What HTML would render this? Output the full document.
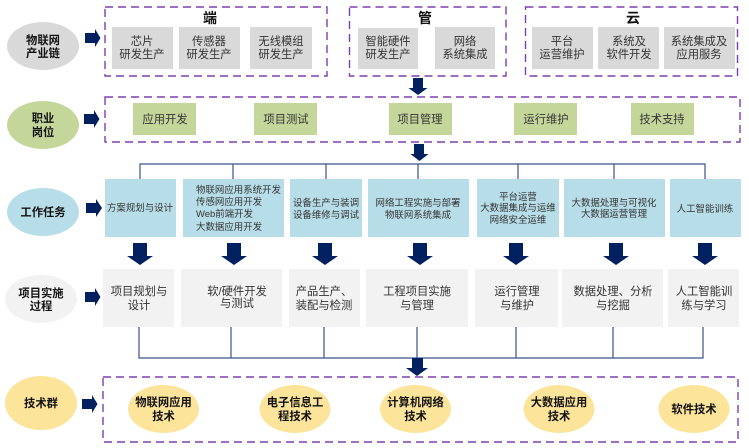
<!DOCTYPE html>
<html lang="zh"><head><meta charset="utf-8">
<style>
html,body{margin:0;padding:0;background:#fff;width:749px;height:448px;overflow:hidden}
svg{display:block}
text{font-family:"Liberation Sans","Noto Sans CJK SC",sans-serif;text-anchor:middle;fill:#333}
.g{font-size:11.3px}
.b{font-size:9.45px}
.h{font-size:11.3px;font-weight:700;fill:#111}
.t{font-size:14px;font-weight:700;fill:#111}
.d{fill:none;stroke:#7e3fae;stroke-width:1.4;stroke-dasharray:8 5}
.l{fill:none;stroke:#3b5488;stroke-width:1.2}
</style></head><body>
<svg width="749" height="448" viewBox="0 0 749 448" xmlns="http://www.w3.org/2000/svg">
<rect width="749" height="448" fill="#fff"/>

<!-- connectors -->
<path class="l" d="M140 179V164H705V179M233 164V179M326 164V179M418 164V179M518 164V179M614 164V179"/>
<path class="l" d="M139 327V358H703V327M231 327V358M324 327V358M417 327V358M516 327V358M613 327V358"/>

<!-- dashed containers -->
<rect class="d" x="105" y="7" width="222" height="69"/>
<rect class="d" x="349.500" y="7" width="156.500" height="69"/>
<rect class="d" x="525.500" y="7" width="212" height="69"/>
<rect class="d" x="105" y="97" width="635" height="45"/>
<rect class="d" x="103" y="377" width="635" height="65"/>

<!-- left ellipses -->
<ellipse cx="43" cy="46" rx="36" ry="24" fill="#d9d9d9"/>
<ellipse cx="43" cy="125" rx="36" ry="24" fill="#c5d69b"/>
<ellipse cx="43" cy="212" rx="36" ry="24" fill="#b7dde8"/>
<ellipse cx="41" cy="299" rx="36" ry="24" fill="#f2f2f2"/>
<ellipse cx="41" cy="403" rx="36" ry="27" fill="#fde49b"/>
<text class="h" x="43" y="44">物联网</text><text class="h" x="43" y="57">产业链</text>
<text class="h" x="43" y="122">职业</text><text class="h" x="43" y="136">岗位</text>
<text class="h" x="43" y="216">工作任务</text>
<text class="h" x="41" y="297">项目实施</text><text class="h" x="41" y="310">过程</text>
<text class="h" x="41" y="407">技术群</text>

<!-- right arrows -->
<g fill="#002060">
<path d="M85 33H95V29L100.500 38L95 47V43H85Z"/>
<path d="M84 114H94V110L99.500 119L94 128V124H84Z"/>
<path d="M86 203H96V199L102 208L96 217V213H86Z"/>
<path d="M85 292H95V288L100.500 297L95 306V302H85Z"/>
<path d="M82 399H92V395L97.500 404L92 413V409H82Z"/>
<!-- small down arrows -->
<path d="M413 78H423V88H427.500L418 95L408.500 88H413Z"/>
<path d="M414 144H424V154H428.500L419.500 161L410.500 154H414Z"/>
<path d="M412 358H423V368H428L417 376L406 368H412Z"/>
<!-- row arrows -->
<path d="M133 243H147V256H153L140 265L127 256H133Z"/>
<path d="M227 243H241V256H247L234 265L221 256H227Z"/>
<path d="M318 243H332V256H338L325 265L312 256H318Z"/>
<path d="M413 243H427V256H433L420 265L407 256H413Z"/>
<path d="M509 243H523V256H529L516 265L503 256H509Z"/>
<path d="M609 243H623V256H629L616 265L603 256H609Z"/>
<path d="M698 243H712V256H718L705 265L692 256H698Z"/>
</g>

<!-- group titles -->
<text class="t" x="210" y="23">端</text>
<text class="t" x="425" y="23">管</text>
<text class="t" x="633" y="23">云</text>

<!-- gray cards -->
<g fill="#d9d9d9">
<rect x="112" y="27" width="61" height="42"/><rect x="179" y="27" width="61" height="42"/><rect x="250" y="27" width="62" height="42"/>
<rect x="358" y="28" width="60" height="41"/><rect x="435" y="27" width="60" height="42"/>
<rect x="532" y="27" width="61" height="42"/><rect x="598" y="27" width="61" height="42"/><rect x="664" y="27" width="71" height="42"/>
</g>
<text class="g" x="142" y="45">芯片</text><text class="g" x="142" y="58">研发生产</text>
<text class="g" x="209" y="45">传感器</text><text class="g" x="209" y="58">研发生产</text>
<text class="g" x="281" y="45">无线模组</text><text class="g" x="281" y="58">研发生产</text>
<text class="g" x="388" y="45">智能硬件</text><text class="g" x="388" y="58">研发生产</text>
<text class="g" x="465" y="45">网络</text><text class="g" x="465" y="58">系统集成</text>
<text class="g" x="562" y="45">平台</text><text class="g" x="562" y="58">运营维护</text>
<text class="g" x="629" y="45">系统及</text><text class="g" x="629" y="58">软件开发</text>
<text class="g" x="699" y="45">系统集成及</text><text class="g" x="699" y="58">应用服务</text>

<!-- green cards -->
<g fill="#c5d69b">
<rect x="133" y="103" width="63" height="32"/><rect x="254" y="103" width="63" height="32"/><rect x="389" y="103" width="63" height="32"/><rect x="514" y="103" width="63" height="32"/><rect x="631" y="103" width="63" height="32"/>
</g>
<text class="g" x="165" y="123">应用开发</text>
<text class="g" x="286" y="123">项目测试</text>
<text class="g" x="420" y="123">项目管理</text>
<text class="g" x="546" y="123">运行维护</text>
<text class="g" x="662" y="123">技术支持</text>

<!-- blue cards -->
<g fill="#b7dde8">
<rect x="105" y="179" width="71" height="58"/><rect x="183" y="179" width="101" height="58"/><rect x="290" y="179" width="72" height="58"/><rect x="368" y="179" width="101" height="58"/><rect x="477" y="179" width="82" height="58"/><rect x="564" y="179" width="101" height="58"/><rect x="670" y="179" width="71" height="58"/>
</g>
<text class="b" x="140" y="211">方案规划与设计</text>
<g style="text-anchor:start">
<text class="b" x="196" y="193" style="text-anchor:start">物联网应用系统开发</text>
<text class="b" x="196" y="205" style="text-anchor:start">传感网应用开发</text>
<text class="b" x="196" y="217" style="text-anchor:start">Web前端开发</text>
<text class="b" x="196" y="230" style="text-anchor:start">大数据应用开发</text>
</g>
<text class="b" x="326" y="206">设备生产与装调</text><text class="b" x="326" y="218">设备维修与调试</text>
<text class="b" x="418" y="206">网络工程实施与部署</text><text class="b" x="418" y="218">物联网系统集成</text>
<text class="b" x="518" y="200">平台运营</text><text class="b" x="518" y="211">大数据集成与运维</text><text class="b" x="518" y="223">网络安全运维</text>
<text class="b" x="614" y="206">大数据处理与可视化</text><text class="b" x="614" y="217">大数据运营管理</text>
<text class="b" x="705" y="212">人工智能训练</text>

<!-- light cards -->
<g fill="#f2f2f2">
<rect x="103" y="269" width="71" height="58"/><rect x="181" y="269" width="101" height="58"/><rect x="289" y="269" width="71" height="58"/><rect x="366" y="269" width="102" height="58"/><rect x="475" y="269" width="83" height="58"/><rect x="562" y="269" width="101" height="58"/><rect x="668" y="269" width="71" height="58"/>
</g>
<text class="g" x="139" y="295">项目规划与</text><text class="g" x="139" y="309">设计</text>
<text class="g" x="237" y="295">软/硬件开发</text><text class="g" x="237" y="307">与测试</text>
<text class="g" x="324" y="295">产品生产、</text><text class="g" x="324" y="309">装配与检测</text>
<text class="g" x="417" y="295">工程项目实施</text><text class="g" x="417" y="309">与管理</text>
<text class="g" x="517" y="295">运行管理</text><text class="g" x="517" y="309">与维护</text>
<text class="g" x="613" y="295">数据处理、分析</text><text class="g" x="613" y="309">与挖掘</text>
<text class="g" x="704" y="295">人工智能训</text><text class="g" x="704" y="309">练与学习</text>

<!-- technology ellipses -->
<g fill="#fde49b">
<ellipse cx="163.500" cy="409" rx="35.500" ry="24"/>
<ellipse cx="295" cy="409" rx="35.500" ry="24"/>
<ellipse cx="415.500" cy="409" rx="35.500" ry="24"/>
<ellipse cx="559" cy="409" rx="35.500" ry="24"/>
<ellipse cx="694" cy="409" rx="35.500" ry="24"/>
</g>
<text class="h" x="163.500" y="406">物联网应用</text><text class="h" x="163.500" y="420">技术</text>
<text class="h" x="295" y="406">电子信息工</text><text class="h" x="295" y="420">程技术</text>
<text class="h" x="415.500" y="406">计算机网络</text><text class="h" x="415.500" y="420">技术</text>
<text class="h" x="559" y="406">大数据应用</text><text class="h" x="559" y="420">技术</text>
<text class="h" x="694" y="413">软件技术</text>
</svg>
</body></html>
